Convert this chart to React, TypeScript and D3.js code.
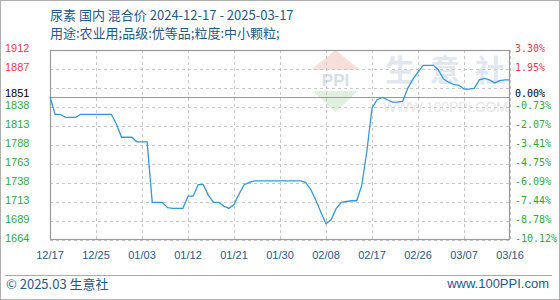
import React from "react";
import * as d3 from "d3";

const titleText = "尿素 国内 混合价 2024-12-17 - 2025-03-17";
const subtitleText = "用途:农业用;品级:优等品;粒度:中小颗粒;";
const footerLeft = "© 2025.03 生意社";
const footerRight = "www.100PPI.com";

const baseValue = 1851;
const baseLeftLabel = "1851";
const baseRightLabel = "0.00%";
const upperPct = 0.033;
const lowerPct = -0.1012;

const leftTickLabels = ["1912", "1887", "1838", "1813", "1788", "1763", "1738", "1713", "1689", "1664"];
const rightTickLabels = ["3.30%", "1.95%", "-0.73%", "-2.07%", "-3.41%", "-4.75%", "-6.09%", "-7.44%", "-8.78%", "-10.12%"];

const xTickLabels = ["12/17", "12/25", "01/03", "01/12", "01/21", "01/30", "02/08", "02/17", "02/26", "03/07", "03/16"];
const xTickEvery = 9;

// daily prices 2024-12-17 .. 2025-03-17
const prices = [
  1851, 1828, 1828, 1824, 1824, 1824, 1828, 1828, 1828, 1828,
  1828, 1828, 1828, 1815, 1798, 1798, 1798, 1792, 1792, 1792,
  1713, 1713, 1713, 1706, 1705, 1705, 1705, 1721, 1721, 1736,
  1736, 1722, 1713, 1713, 1708, 1705, 1710, 1724, 1736, 1739,
  1741, 1741, 1741, 1741, 1741, 1741, 1741, 1741, 1741, 1741,
  1739, 1730, 1716, 1700, 1685, 1690, 1705, 1713, 1714, 1715,
  1715, 1735, 1780, 1836, 1847, 1850, 1847, 1844, 1844, 1845,
  1862, 1874, 1883, 1892, 1892, 1892, 1886, 1874, 1870, 1867,
  1866, 1861, 1861, 1862, 1873, 1875, 1873, 1869, 1872, 1873,
  1873,
];

const W = 560;
const H = 300;
const M = { left: 50, right: 510, top: 50, bottom: 240 };

const RED = "#f03c3c";
const GREEN = "#33aa33";
const BLUE_TEXT = "#1d5a8e";
const LINE = "#3399dd";
const GRID = "#c8c8c8";
const AXIS = "#9a9a9a";

export default function App() {
  const yMin = baseValue * (1 + lowerPct);
  const yMax = baseValue * (1 + upperPct);
  const x = d3.scaleLinear().domain([0, prices.length - 1]).range([M.left, M.right]);
  const y = d3.scaleLinear().domain([yMin, yMax]).range([M.bottom, M.top]);

  const gridValues = d3.range(11).map((i) => yMin + (i * (yMax - yMin)) / 10);
  const line = d3
    .line<number>()
    .x((_, i) => x(i))
    .y((d) => y(d));

  const labelFont = "'Liberation Sans', Arial, sans-serif";
  const monoFont = "'DejaVu Sans Mono', monospace";
  const cjkFont = "'Noto Sans CJK SC', 'Noto Sans', sans-serif";

  return (
    <svg
      width={W}
      height={H}
      style={{ position: "absolute", left: 0, top: 0, background: "#fff" }}
    >
      <rect x={0.5} y={0.5} width={W - 1} height={H - 1} fill="#fff" stroke="#b0b0b0" />

      {/* watermark */}
      <g opacity={0.9}>
        <path d={`M311,70 L335.5,50 L360,70 Z`} fill="#f7dcd8" />
        <path d={`M313,91 L358,91 L335.5,112 Z`} fill="#dcefdc" />
        <text x={335.5} y={86} textAnchor="middle" fontFamily={labelFont} fontWeight="bold" fontSize={17} fill="#d3dae8">
          PPI
        </text>
        <text x={385} y={81} fontFamily={cjkFont} fontWeight="bold" fontSize={30} letterSpacing={15} fill="#dfe4ee">
          生意社
        </text>
        <text x={383} y={112} fontFamily={labelFont} fontSize={14} fill="#e6e6e6" textLength={125}>
          WWW.100PPI.COM
        </text>
      </g>

      {/* titles */}
      <text x={50} y={20} fontFamily={cjkFont} fontSize={13} fill={BLUE_TEXT}>
        {titleText}
      </text>
      <text x={50} y={38} fontFamily={cjkFont} fontSize={13} fill={BLUE_TEXT}>
        {subtitleText}
      </text>

      {/* horizontal grid */}
      {gridValues.map((v, i) => (
        <line key={"hg" + i} x1={M.left} x2={M.right} y1={Math.round(y(v)) + 0.5} y2={Math.round(y(v)) + 0.5} stroke={GRID} strokeDasharray="3,3" />
      ))}
      {/* vertical grid */}
      {xTickLabels.map((_, i) => (
        <line key={"vg" + i} x1={Math.round(x(i * xTickEvery)) + 0.5} x2={Math.round(x(i * xTickEvery)) + 0.5} y1={M.top} y2={M.bottom} stroke={GRID} strokeDasharray="3,3" />
      ))}

      {/* baseline */}
      <line x1={M.left} x2={M.right} y1={Math.round(y(baseValue)) + 0.5} y2={Math.round(y(baseValue)) + 0.5} stroke={AXIS} strokeWidth={1} />

      {/* frame */}
      <rect x={M.left + 0.5} y={M.top + 0.5} width={M.right - M.left - 1} height={M.bottom - M.top - 1} fill="none" stroke={AXIS} strokeWidth={1.2} />

      {/* price line */}
      <path d={line(prices) || ""} fill="none" stroke={LINE} strokeWidth={1.3} />

      {/* left tick labels */}
      {leftTickLabels.map((t, i) => {
        const v = parseFloat(t);
        return (
          <text key={"lt" + i} x={5} y={y(v) - 1} dominantBaseline="middle" fontFamily={labelFont} fontSize={11} fill={v > baseValue ? RED : GREEN}>
            {t}
          </text>
        );
      })}
      <text x={5} y={y(baseValue) - 2.5} dominantBaseline="middle" fontFamily={labelFont} fontSize={11} fill="#000">
        {baseLeftLabel}
      </text>

      {/* right tick labels */}
      {rightTickLabels.map((t, i) => {
        const v = parseFloat(leftTickLabels[i]);
        return (
          <text key={"rt" + i} x={515} y={y(v) - 1} dominantBaseline="middle" fontFamily={monoFont} fontSize={10} fill={v > baseValue ? RED : GREEN}>
            {t}
          </text>
        );
      })}
      <text x={515} y={y(baseValue) - 2.5} dominantBaseline="middle" fontFamily={monoFont} fontSize={10} fill="#000">
        {baseRightLabel}
      </text>

      {/* x tick labels */}
      {xTickLabels.map((t, i) => (
        <text key={"xt" + i} x={x(i * xTickEvery)} y={256} textAnchor="middle" dominantBaseline="middle" fontFamily={labelFont} fontSize={11} fill={BLUE_TEXT}>
          {t}
        </text>
      ))}

      {/* footer */}
      <line x1={5} x2={552} y1={275.5} y2={275.5} stroke="#aaaaaa" />
      <text x={6} y={285} dominantBaseline="middle" fontFamily={cjkFont} fontSize={13} fill={BLUE_TEXT}>
        {footerLeft}
      </text>
      <text x={549} y={285} textAnchor="end" dominantBaseline="middle" fontFamily={labelFont} fontSize={13} fill={BLUE_TEXT}>
        {footerRight}
      </text>
    </svg>
  );
}
